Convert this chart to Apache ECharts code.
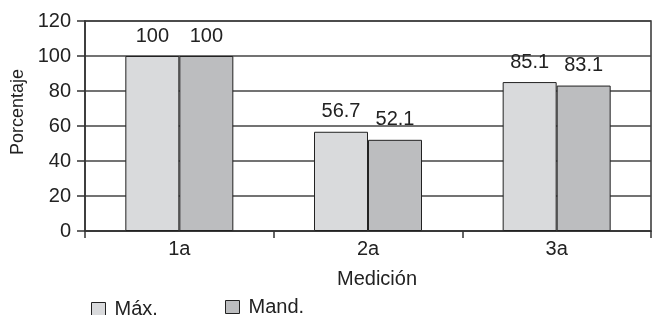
<!DOCTYPE html>
<html>
<head>
<meta charset="utf-8">
<script src="https://cdn.jsdelivr.net/npm/echarts@6/dist/echarts.min.js"></script>
<style>
  html, body { margin: 0; padding: 0; background: #fff; }
  #chart { width: 656px; height: 315px; }
</style>
</head>
<body>
<div id="chart"></div>
<script>
// categories and values
var mediciones = ['1a', '2a', '3a'];
var maxValues = [100, 56.7, 85.1];
var mandValues = [100, 52.1, 83.1];
var yTicks = { min: 0, max: 120, interval: 20 };

var font = 'Liberation Sans, Arial, sans-serif';
var ink = '#222';

var chart = echarts.init(document.getElementById('chart'));

function barSeries (name, data, color) {
  return {
    name: name,
    type: 'bar',
    data: data,
    barWidth: 54,
    barGap: 0,
    itemStyle: { color: color, borderColor: ink, borderWidth: 1 },
    label: {
      show: true,
      position: 'top',
      distance: 10,
      color: ink,
      fontFamily: font,
      fontSize: 20
    },
    animation: false
  };
}

function legendItem (name, left, top) {
  return {
    data: [{ name: name, icon: 'rect' }],
    left: left, top: top,
    itemWidth: 14, itemHeight: 13,
    itemGap: 0,
    textStyle: { fontFamily: font, fontSize: 20, color: ink, padding: [0, 0, 0, 4] },
    itemStyle: { borderColor: ink, borderWidth: 1 }
  };
}

chart.setOption({
  backgroundColor: '#fff',
  grid: {
    left: 85, right: 5, top: 21, bottom: 84,
    outerBoundsMode: 'none',
    show: true,
    borderColor: '#333',
    borderWidth: 1.5
  },
  legend: [
    legendItem('Máx.', 86, 294),
    legendItem('Mand.', 220, 292)
  ],
  xAxis: {
    type: 'category',
    data: mediciones,
    name: 'Medición',
    nameLocation: 'middle',
    nameGap: 38,
    nameTextStyle: { fontFamily: font, fontSize: 20, color: ink, padding: [0, 0, 0, 18] },
    axisLine: { lineStyle: { color: '#333', width: 1.5 } },
    axisTick: { show: true, length: 7, lineStyle: { color: '#333', width: 1.5 } },
    axisLabel: { fontFamily: font, fontSize: 20, color: ink, margin: 8 }
  },
  yAxis: {
    type: 'value',
    min: yTicks.min,
    max: yTicks.max,
    interval: yTicks.interval,
    name: 'Porcentaje',
    nameLocation: 'middle',
    nameRotate: 90,
    nameGap: 58,
    nameTextStyle: { fontFamily: font, fontSize: 18, color: ink, padding: [0, 0, 0, 28] },
    axisLine: { show: true, lineStyle: { color: '#333', width: 1.5 } },
    axisTick: { show: true, length: 8, lineStyle: { color: '#333', width: 1.5 } },
    axisLabel: { fontFamily: font, fontSize: 20, color: ink, margin: 14 },
    splitLine: { show: true, lineStyle: { color: '#444', width: 1.5 } }
  },
  series: [
    barSeries('Máx.', maxValues, '#d9dadc'),
    barSeries('Mand.', mandValues, '#bcbdbf')
  ]
});
</script>
</body>
</html>
